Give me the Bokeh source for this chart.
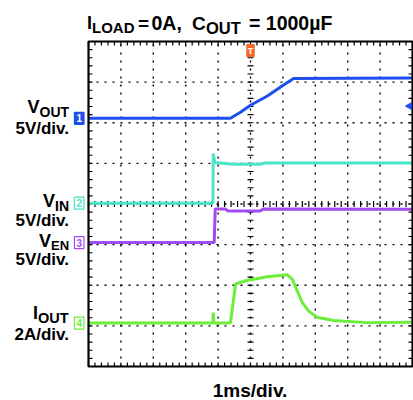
import numpy as np
from bokeh.plotting import figure
from bokeh.models import Range1d, Label
from bokeh.embed import file_html
from bokeh.resources import INLINE

# ---- data (time in ms, amplitude in divisions) ----
t_vout = [-5.0, -0.62, -0.31, 0.0, 0.52, 1.02, 1.33, 5.0]
v_vout = [2.11, 2.11, 2.26, 2.43, 2.66, 2.93, 3.09, 3.10]

t_vin = [-5.0, -1.16, -1.15, -1.10, -0.55, 0.30, 0.45, 5.0]
v_vin = [0.02, 0.02, 1.24, 1.02, 0.98, 0.98, 1.01, 1.01]

t_ven = [-5.0, -1.12, -1.09, -0.78, -0.70, 0.30, 0.40, 5.0]
v_ven = [-0.95, -0.95, -0.12, -0.12, -0.17, -0.17, -0.12, -0.13]

t_iout = [-5.0, -1.16, -1.15, -1.13, -0.62, -0.46, -0.15, 0.52, 1.13, 1.29,
          1.44, 1.60, 1.79, 2.06, 2.56, 3.60, 5.0]
v_iout = [-2.93, -2.93, -2.67, -2.93, -2.93, -1.97, -1.89, -1.79, -1.74, -1.85,
          -2.14, -2.43, -2.63, -2.79, -2.87, -2.92, -2.91]

trig_level = [2.41]

x_divs = [-5, -4, -3, -2, -1, 0, 1, 2, 3, 4, 5]
y_divs = [-4, -3, -2, -1, 0, 1, 2, 3, 4]

C_BLUE = "#1f4fee"
C_TEAL = "#48e6c6"
C_PURP = "#a24cf0"
C_GREEN = "#6cee3a"
C_ORANGE = "#f36a2c"

PX_X = 32.4     # pixels per ms division
PX_Y = 40.625   # pixels per vertical division


def X(px):
    return (px - 250.0) / PX_X


def Y(py):
    return (203.5 - py) / PX_Y


p = figure(width=413, height=400, x_range=Range1d(X(0), X(413)), y_range=Range1d(Y(400), Y(0)),
           output_backend="svg", toolbar_location=None,
           x_axis_location=None, y_axis_location=None, min_border=0,
           background_fill_color="white", border_fill_color="white",
           outline_line_color=None)
p.grid.visible = False

xmin, xmax = x_divs[0], x_divs[-1]
ymin, ymax = y_divs[0], y_divs[-1]

# dotted graticule
gx = x_divs[1:-1]
gy = y_divs[1:-1]
p.segment(x0=gx, y0=[ymin] * len(gx), x1=gx, y1=[ymax] * len(gx),
          line_color="black", line_width=1.4, line_dash="2 6")
p.segment(x0=[xmin] * len(gy), y0=gy, x1=[xmax] * len(gy), y1=gy,
          line_color="black", line_width=1.4, line_dash="2 6")

# minor ticks (5 per division)
ty = np.round(np.arange(ymin, ymax + 0.001, 0.2), 3)
tx = np.round(np.arange(xmin, xmax + 0.001, 0.2), 3)
tl_x = 4.0 / PX_X
tl_y = 4.0 / PX_Y
p.segment(x0=np.full(ty.size, xmin), y0=ty, x1=np.full(ty.size, xmin + tl_x), y1=ty,
          line_color="black", line_width=1.2)
p.segment(x0=np.full(ty.size, xmax), y0=ty, x1=np.full(ty.size, xmax - tl_x), y1=ty,
          line_color="black", line_width=1.2)
p.segment(x0=tx, y0=np.full(tx.size, ymax), x1=tx, y1=np.full(tx.size, ymax - tl_y),
          line_color="black", line_width=1.2)
p.segment(x0=tx, y0=np.full(tx.size, ymin), x1=tx, y1=np.full(tx.size, ymin + tl_y),
          line_color="black", line_width=1.2)
p.scatter(np.zeros(ty.size), ty, marker="dash", size=6, line_color="black", line_width=1.2)
p.scatter(tx, np.zeros(tx.size), marker="dash", angle=np.pi / 2, size=6,
          line_color="black", line_width=1.2)

# traces
p.line(t_vin, v_vin, line_color=C_TEAL, line_width=3)
p.line(t_ven, v_ven, line_color=C_PURP, line_width=3)
p.line(t_iout, v_iout, line_color=C_GREEN, line_width=3)
p.line(t_vout, v_vout, line_color=C_BLUE, line_width=3)

# screen border
p.quad(left=[xmin], right=[xmax], bottom=[ymin], top=[ymax], fill_color=None,
       line_color="black", line_width=2.2)

p.scatter([X(409)], trig_level, marker="triangle", angle=np.pi / 2, size=7,
          fill_color=C_BLUE, line_color=C_BLUE)

FONT = "Liberation Sans"


def lab(text, px, py, size, align="left", color="black"):
    p.add_layout(Label(x=X(px), y=Y(py), text=text, text_font=FONT,
                       text_font_style="bold", text_font_size=f"{size}px",
                       text_color=color, text_align=align,
                       text_baseline="alphabetic"))


# title
lab("I", 86.5, 22.7, 18)
lab("LOAD", 91.5, 27.3, 15)
lab("=", 137.5, 22.7, 19)
lab("0A,", 151.0, 22.7, 19.5)
lab("C", 191.5, 22.7, 19)
lab("OUT", 205.5, 27.3, 16.5)
lab("= 1000µF", 248.5, 22.7, 19.5)

# channel labels
lab("V", 39.0, 106.0, 18, "right")
lab("OUT", 39.0, 111.7, 14)
lab("5V/div.", 68.5, 127.7, 17, "right")

lab("V", 54.5, 200.0, 18, "right")
lab("IN", 54.5, 205.0, 14)
lab("5V/div.", 68.5, 220.0, 17, "right")

lab("V", 50.5, 240.0, 18, "right")
lab("EN", 50.5, 245.0, 13)
lab("5V/div.", 68.5, 259.3, 17, "right")

lab("I", 37.5, 312.7, 18, "right")
lab("OUT", 37.5, 317.7, 14.5)
lab("2A/div.", 68.5, 334.0, 17, "right")

lab("1ms/div.", 249.5, 390.0, 19, "center")

# channel ground markers
markers = [("1", v_vout[0], C_BLUE, "white", C_BLUE),
           ("2", v_vin[0], "white", C_TEAL, C_TEAL),
           ("3", v_ven[0], "white", C_PURP, C_PURP),
           ("4", v_iout[0], "white", C_GREEN, C_GREEN)]
for txt, lvl, bg, tc, bc in markers:
    p.add_layout(Label(x=X(83.5), y=lvl, text=txt, text_font=FONT,
                       text_font_size="10px", text_font_style="bold",
                       text_color=tc, background_fill_color=bg,
                       border_line_color=bc, border_line_width=1.2,
                       text_align="right", text_baseline="middle", padding=2))

# trigger position marker
p.add_layout(Label(x=0, y=Y(50), text="T", text_font=FONT, text_font_size="9px",
                   text_font_style="bold", text_color="white",
                   background_fill_color=C_ORANGE, border_line_color=C_ORANGE,
                   text_align="center", text_baseline="middle", padding=1))

open("out.html", "w").write(file_html(p, INLINE))
